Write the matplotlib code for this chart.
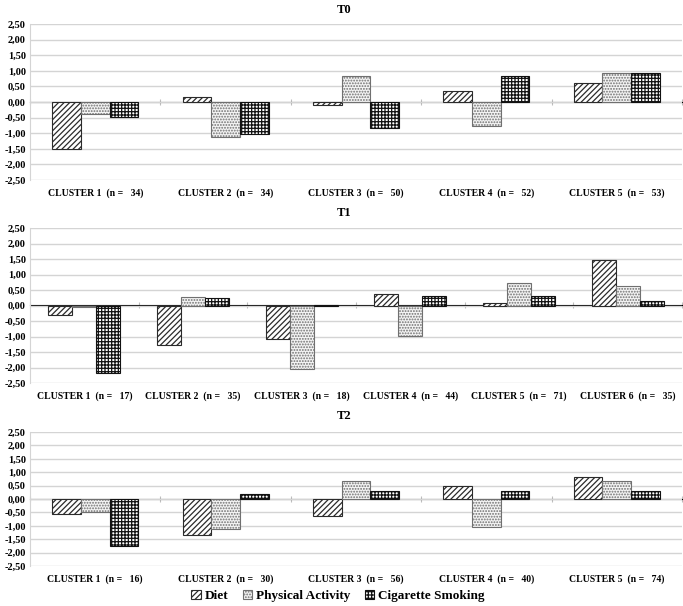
import numpy as np
import matplotlib
matplotlib.use("Agg")
import matplotlib.pyplot as plt

plt.rcParams['font.family'] = ['Liberation Serif', 'DejaVu Serif']
plt.rcParams['font.weight'] = 'bold'
plt.rcParams['hatch.linewidth'] = 0.9

series = ['Diet', 'Physical Activity', 'Cigarette Smoking']

# T0
t0_labels = ['CLUSTER 1  (n =   34)', 'CLUSTER 2  (n =   34)', 'CLUSTER 3  (n =   50)',
             'CLUSTER 4  (n =   52)', 'CLUSTER 5  (n =   53)']
t0_diet = [-1.50, 0.17, -0.10, 0.35, 0.62]
t0_pa = [-0.37, -1.13, 0.84, -0.76, 0.93]
t0_cs = [-0.48, -1.04, -0.82, 0.84, 0.92]

# T1
t1_labels = ['CLUSTER 1  (n =   17)', 'CLUSTER 2  (n =   35)', 'CLUSTER 3  (n =   18)',
             'CLUSTER 4  (n =   44)', 'CLUSTER 5  (n =   71)', 'CLUSTER 6  (n =   35)']
t1_diet = [-0.31, -1.27, -1.09, 0.37, 0.08, 1.46]
t1_pa = [-0.06, 0.28, -2.04, -0.98, 0.72, 0.63]
t1_cs = [-2.19, 0.24, 0.03, 0.31, 0.31, 0.14]

# T2
t2_labels = ['CLUSTER 1  (n =   16)', 'CLUSTER 2  (n =   30)', 'CLUSTER 3  (n =   56)',
             'CLUSTER 4  (n =   40)', 'CLUSTER 5  (n =   74)']
t2_diet = [-0.55, -1.36, -0.63, 0.50, 0.83]
t2_pa = [-0.48, -1.12, 0.66, -1.05, 0.68]
t2_cs = [-1.74, 0.17, 0.31, 0.31, 0.31]

yticks = np.arange(-2.5, 2.51, 0.5)
styles = [
    dict(facecolor='white', edgecolor='#2b2b2b', hatch='//////'),
    dict(facecolor='#f4f4f4', edgecolor='#707070', hatch='......'),
    dict(facecolor='white', edgecolor='#111111', hatch='+++++'),
]

W, H = 683, 606
fig = plt.figure(figsize=(W / 100, H / 100), dpi=100)


def panel(rect, title, title_y, labels, diet, pa, cs):
    ax = fig.add_axes(rect)
    n = len(labels)
    x = np.arange(n)
    w = 0.22
    bars = []
    for i, vals in enumerate([diet, pa, cs]):
        b = ax.bar(x + (i - 1) * w, vals, w, label=series[i], linewidth=0.8, zorder=3, **styles[i])
        bars.append(b)
    ax.set_xlim(-0.5, n - 0.5)
    ax.set_ylim(-2.5, 2.5)
    ax.set_yticks(yticks)
    ax.set_yticklabels([('%.2f' % v).replace('.', ',') for v in yticks], fontsize=7.5, fontweight='bold')
    ax.yaxis.grid(True, color='#d4d4d4', linewidth=1)
    ax.set_axisbelow(True)
    ax.tick_params(axis='y', length=0, pad=3)
    ax.set_xticks(x)
    ax.set_xticklabels(labels, fontsize=7, fontweight='bold')
    ax.tick_params(axis='x', length=0, pad=6)
    for s in ['top', 'right', 'bottom']:
        ax.spines[s].set_visible(False)
    ax.spines['left'].set_color('#d4d4d4')
    # category axis crossing at zero
    sec = ax.secondary_xaxis(0.5)
    sec.set_xticks(np.arange(n + 1) - 0.5)
    sec.set_xticklabels([])
    sec.tick_params(axis='x', direction='inout', length=4, color='#bdbdbd')
    sec.spines['bottom'].set_color('#bdbdbd')
    fig.text(344 / W, 1 - title_y / H, title, ha='center', va='center', fontsize=9, fontweight='bold')
    return ax, bars


def frac(top_px, bottom_px):
    return [30 / W, 1 - bottom_px / H, 652 / W, (bottom_px - top_px) / H]


panel(frac(24, 180), 'T0', 10, t0_labels, t0_diet, t0_pa, t0_cs)
panel(frac(228, 383), 'T1', 213, t1_labels, t1_diet, t1_pa, t1_cs)
ax, bars = panel(frac(432, 566), 'T2', 416, t2_labels, t2_diet, t2_pa, t2_cs)

fig.legend(handles=bars, labels=series, loc='center', bbox_to_anchor=(338 / W, 1 - 596 / H),
           ncol=3, frameon=False, handlelength=0.7, handleheight=0.7,
           handletextpad=0.3, columnspacing=1.1, prop={'weight': 'bold', 'size': 9.5})

fig.savefig('out.png', dpi=100)
